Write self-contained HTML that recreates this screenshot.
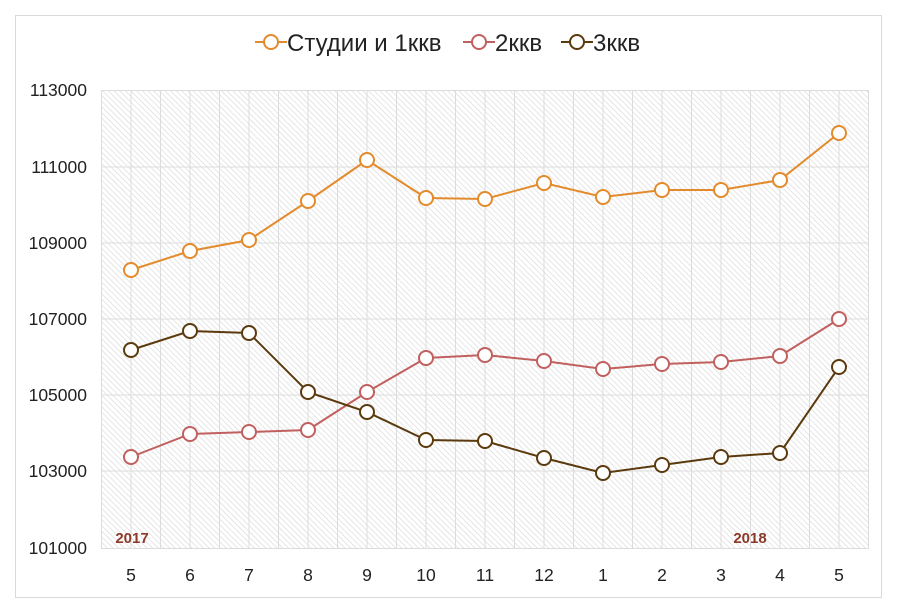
<!DOCTYPE html>
<html><head><meta charset="utf-8"><style>
body{margin:0;background:#fff;}
svg{display:block;font-family:"Liberation Sans",Calibri,sans-serif;}
</style></head><body>
<svg width="900" height="611" viewBox="0 0 900 611">
<defs>
<pattern id="h" width="4" height="4" patternUnits="userSpaceOnUse" patternTransform="rotate(-45)">
<rect width="4" height="4" fill="#fff"/><line x1="0" y1="0" x2="0" y2="4" stroke="#d9d9d9" stroke-width="1.3"/>
</pattern>
</defs>
<rect x="15.5" y="15.5" width="866" height="582" fill="#fff" stroke="#d9d9d9"/>
<rect x="101" y="90" width="768" height="459" fill="url(#h)"/>
<g stroke="#dcdcdc" stroke-width="1">
<line x1="101" y1="90.5" x2="869" y2="90.5"/><line x1="101" y1="167" x2="869" y2="167"/><line x1="101" y1="243" x2="869" y2="243"/><line x1="101" y1="319" x2="869" y2="319"/><line x1="101" y1="395" x2="869" y2="395"/><line x1="101" y1="471" x2="869" y2="471"/><line x1="101" y1="548.5" x2="869" y2="548.5"/>
</g>
<g stroke="#dcdcdc">
<line x1="101.5" y1="90" x2="101.5" y2="549"/><line x1="131" y1="90" x2="131" y2="549"/><line x1="160.5" y1="90" x2="160.5" y2="549"/><line x1="190" y1="90" x2="190" y2="549"/><line x1="219.5" y1="90" x2="219.5" y2="549"/><line x1="249" y1="90" x2="249" y2="549"/><line x1="278.5" y1="90" x2="278.5" y2="549"/><line x1="308" y1="90" x2="308" y2="549"/><line x1="337.5" y1="90" x2="337.5" y2="549"/><line x1="367" y1="90" x2="367" y2="549"/><line x1="396.5" y1="90" x2="396.5" y2="549"/><line x1="426" y1="90" x2="426" y2="549"/><line x1="455.5" y1="90" x2="455.5" y2="549"/><line x1="485" y1="90" x2="485" y2="549"/><line x1="514.5" y1="90" x2="514.5" y2="549"/><line x1="544" y1="90" x2="544" y2="549"/><line x1="573.5" y1="90" x2="573.5" y2="549"/><line x1="603" y1="90" x2="603" y2="549"/><line x1="632.5" y1="90" x2="632.5" y2="549"/><line x1="662" y1="90" x2="662" y2="549"/><line x1="691.5" y1="90" x2="691.5" y2="549"/><line x1="721" y1="90" x2="721" y2="549"/><line x1="750.5" y1="90" x2="750.5" y2="549"/><line x1="780" y1="90" x2="780" y2="549"/><line x1="809.5" y1="90" x2="809.5" y2="549"/><line x1="839" y1="90" x2="839" y2="549"/><line x1="868.5" y1="90" x2="868.5" y2="549"/>
</g>
<g font-size="17.5" fill="#222" text-anchor="end">
<text x="87" y="96">113000</text><text x="87" y="173">111000</text><text x="87" y="249">109000</text><text x="87" y="325">107000</text><text x="87" y="401">105000</text><text x="87" y="477">103000</text><text x="87" y="554">101000</text>
</g>
<g font-size="17.5" fill="#222" text-anchor="middle">
<text x="131" y="581">5</text><text x="190" y="581">6</text><text x="249" y="581">7</text><text x="308" y="581">8</text><text x="367" y="581">9</text><text x="426" y="581">10</text><text x="485" y="581">11</text><text x="544" y="581">12</text><text x="603" y="581">1</text><text x="662" y="581">2</text><text x="721" y="581">3</text><text x="780" y="581">4</text><text x="839" y="581">5</text>
</g>
<g font-size="15" font-weight="bold" fill="#8b3a2a" text-anchor="middle">
<text x="132" y="543">2017</text><text x="750" y="543">2018</text>
</g>
<g fill="#fff" stroke-width="2">
<g stroke="#e38b2c">
<polyline fill="none" points="131,270 190,251 249,240 308,201 367,160 426,198 485,199 544,183 603,197 662,190 721,190 780,180 839,133"/>
<circle cx="131" cy="270" r="7"/><circle cx="190" cy="251" r="7"/><circle cx="249" cy="240" r="7"/><circle cx="308" cy="201" r="7"/><circle cx="367" cy="160" r="7"/><circle cx="426" cy="198" r="7"/><circle cx="485" cy="199" r="7"/><circle cx="544" cy="183" r="7"/><circle cx="603" cy="197" r="7"/><circle cx="662" cy="190" r="7"/><circle cx="721" cy="190" r="7"/><circle cx="780" cy="180" r="7"/><circle cx="839" cy="133" r="7"/>
</g>
<g stroke="#c0605f">
<polyline fill="none" points="131,457 190,434 249,432 308,430 367,392 426,358 485,355 544,361 603,369 662,364 721,362 780,356 839,319"/>
<circle cx="131" cy="457" r="7"/><circle cx="190" cy="434" r="7"/><circle cx="249" cy="432" r="7"/><circle cx="308" cy="430" r="7"/><circle cx="367" cy="392" r="7"/><circle cx="426" cy="358" r="7"/><circle cx="485" cy="355" r="7"/><circle cx="544" cy="361" r="7"/><circle cx="603" cy="369" r="7"/><circle cx="662" cy="364" r="7"/><circle cx="721" cy="362" r="7"/><circle cx="780" cy="356" r="7"/><circle cx="839" cy="319" r="7"/>
</g>
<g stroke="#5b3a0e">
<polyline fill="none" points="131,350 190,331 249,333 308,392 367,412 426,440 485,441 544,458 603,473 662,465 721,457 780,453 839,367"/>
<circle cx="131" cy="350" r="7"/><circle cx="190" cy="331" r="7"/><circle cx="249" cy="333" r="7"/><circle cx="308" cy="392" r="7"/><circle cx="367" cy="412" r="7"/><circle cx="426" cy="440" r="7"/><circle cx="485" cy="441" r="7"/><circle cx="544" cy="458" r="7"/><circle cx="603" cy="473" r="7"/><circle cx="662" cy="465" r="7"/><circle cx="721" cy="457" r="7"/><circle cx="780" cy="453" r="7"/><circle cx="839" cy="367" r="7"/>
</g>
</g>
<g stroke-width="2" fill="#fff">
<line x1="255" y1="42" x2="287" y2="42" stroke="#e38b2c"/><circle cx="271" cy="42" r="7" stroke="#e38b2c"/>
<line x1="463" y1="42" x2="495" y2="42" stroke="#c0605f"/><circle cx="479" cy="42" r="7" stroke="#c0605f"/>
<line x1="561" y1="42" x2="593" y2="42" stroke="#5b3a0e"/><circle cx="577" cy="42" r="7" stroke="#5b3a0e"/>
</g>
<g font-size="24" fill="#222">
<text x="287" y="51">Студии и 1ккв</text><text x="495" y="51">2ккв</text><text x="593" y="51">3ккв</text>
</g>
</svg>
</body></html>
